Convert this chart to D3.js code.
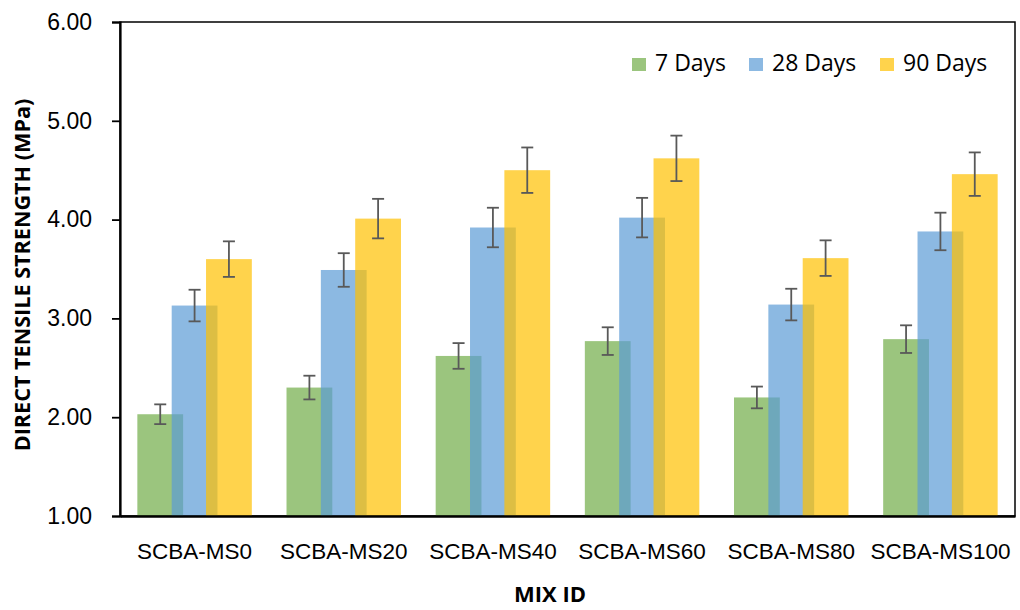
<!DOCTYPE html>
<html>
<head>
<meta charset="utf-8">
<script src="https://cdn.jsdelivr.net/npm/d3@7"></script>
<style>
  html, body { margin: 0; padding: 0; background: #fff; }
  svg { display: block; font-family: "Open Sans", "Lato", sans-serif; }
</style>
</head>
<body>
<svg id="chart" width="1020" height="610"></svg>
<script>
// Direct tensile strength by mix and curing age
const mixes = ["SCBA-MS0", "SCBA-MS20", "SCBA-MS40", "SCBA-MS60", "SCBA-MS80", "SCBA-MS100"];
const ages = ["7 Days", "28 Days", "90 Days"];
const days7 = [2.03, 2.30, 2.62, 2.77, 2.20, 2.79];
const days28 = [3.13, 3.49, 3.92, 4.02, 3.14, 3.88];
const days90 = [3.60, 4.01, 4.50, 4.62, 3.61, 4.46];
const err7 = [0.10, 0.12, 0.13, 0.14, 0.11, 0.14];
const err28 = [0.16, 0.17, 0.20, 0.20, 0.16, 0.19];
const err90 = [0.18, 0.20, 0.23, 0.23, 0.18, 0.22];
const yTicks = [1, 2, 3, 4, 5, 6];

const colors = ["#70AD47", "#5B9BD5", "#FFC000"];
const seriesValues = [days7, days28, days90];
const seriesErrors = [err7, err28, err90];

const margin = { left: 120, right: 5, top: 22, bottom: 94 };
const W = 1020, H = 610;
const svg = d3.select("#chart");

const x = d3.scaleBand().domain(mixes).range([margin.left, W - margin.right]).paddingInner(0).paddingOuter(0);
const y = d3.scaleLinear().domain([1, 6]).range([H - margin.bottom, margin.top]);

// bar geometry within each category: overlapping bars
const barW = x.bandwidth() * 0.307;
const stepW = barW * 0.75;

// frame around plot
svg.append("rect")
  .attr("x", margin.left).attr("y", margin.top)
  .attr("width", W - margin.right - margin.left)
  .attr("height", H - margin.bottom - margin.top)
  .attr("fill", "none").attr("stroke", "#000").attr("stroke-width", 1.5);

// bars
ages.forEach((age, si) => {
  const g = svg.append("g");
  g.selectAll("rect")
    .data(mixes.map((m, i) => ({ m, v: seriesValues[si][i] })))
    .join("rect")
    .attr("x", d => x(d.m) + x.bandwidth() / 2 + (si - 1) * stepW - barW / 2)
    .attr("y", d => y(d.v))
    .attr("width", barW)
    .attr("height", d => y(1) - y(d.v))
    .attr("fill", colors[si])
    .attr("fill-opacity", 0.7);
});

// error bars
ages.forEach((age, si) => {
  const g = svg.append("g").attr("stroke", "#595959").attr("stroke-width", 1.8).attr("fill", "none");
  mixes.forEach((m, i) => {
    const cx = x(m) + x.bandwidth() / 2 + (si - 1) * stepW;
    const v = seriesValues[si][i], e = seriesErrors[si][i];
    const y1 = y(v + e), y0 = y(v - e);
    g.append("line").attr("x1", cx).attr("x2", cx).attr("y1", y1).attr("y2", y0);
    g.append("line").attr("x1", cx - 6).attr("x2", cx + 6).attr("y1", y1).attr("y2", y1);
    g.append("line").attr("x1", cx - 6).attr("x2", cx + 6).attr("y1", y0).attr("y2", y0);
  });
});

// y axis
const yAxis = svg.append("g")
  .attr("transform", `translate(${margin.left},0)`)
  .call(d3.axisLeft(y).tickValues(yTicks).tickFormat(d3.format(".2f")).tickSize(8).tickPadding(20));
yAxis.select(".domain").attr("stroke", "#000").attr("stroke-width", 2.2);
yAxis.selectAll(".tick line").attr("stroke", "#000").attr("stroke-width", 1.8);
yAxis.selectAll(".tick text").attr("font-size", 23).attr("fill", "#000");

// x axis
const xAxis = svg.append("g")
  .attr("transform", `translate(0,${H - margin.bottom})`)
  .call(d3.axisBottom(x).tickSize(0).tickPadding(27));
xAxis.select(".domain").attr("stroke", "#000").attr("stroke-width", 2.5);
xAxis.selectAll(".tick text").attr("font-size", 22.5).attr("fill", "#000");

// axis titles
svg.append("text")
  .attr("transform", `translate(30,${275}) rotate(-90)`)
  .attr("text-anchor", "middle")
  .attr("font-size", 21.6).attr("font-weight", "bold")
  .text("DIRECT TENSILE STRENGTH (MPa)");

svg.append("text")
  .attr("x", 550).attr("y", 602)
  .attr("text-anchor", "middle")
  .attr("font-size", 22).attr("font-weight", "bold")
  .text("MIX ID");

// legend
const legendX = [632, 749, 880];
const legend = svg.append("g");
ages.forEach((age, si) => {
  legend.append("rect")
    .attr("x", legendX[si]).attr("y", 58)
    .attr("width", 14).attr("height", 13)
    .attr("fill", colors[si]).attr("fill-opacity", 0.7);
  legend.append("text")
    .attr("x", legendX[si] + 23).attr("y", 71)
    .attr("font-size", 23).attr("fill", "#000")
    .text(age);
});
</script>
</body>
</html>
